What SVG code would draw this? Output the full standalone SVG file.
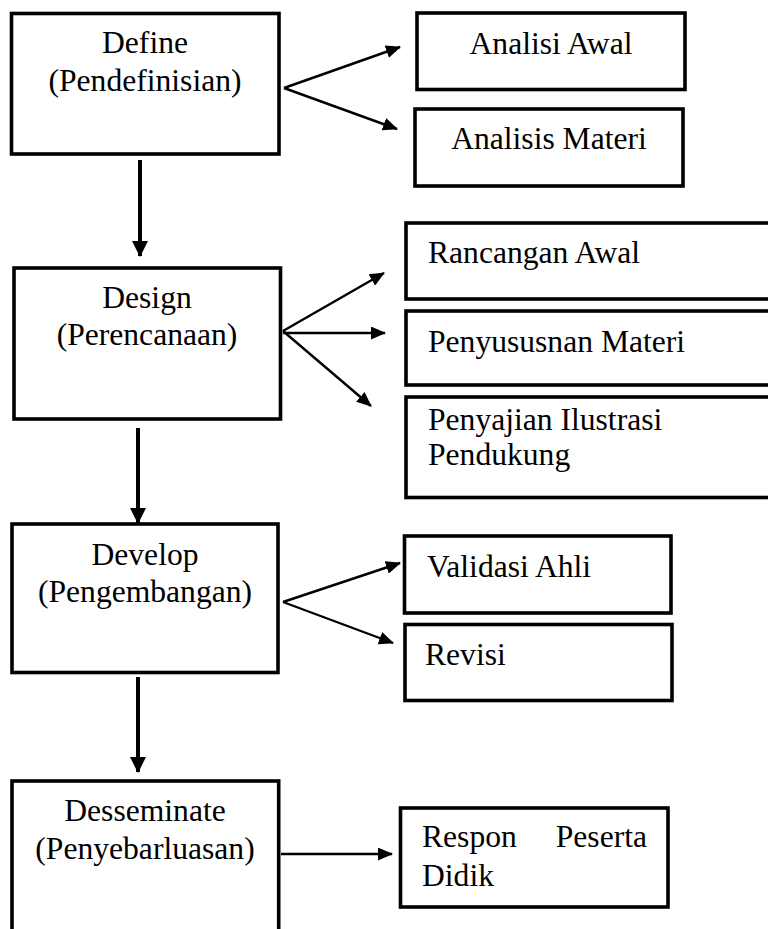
<svg xmlns="http://www.w3.org/2000/svg" width="768" height="929" viewBox="0 0 768 929">
<defs>
<style>
.box{fill:#fff;stroke:#000;stroke-width:3.6}
.t{font-family:'Liberation Serif','DejaVu Serif',serif;font-size:31.6px;fill:#000}
.c{text-anchor:middle}
.e{text-anchor:end}
.thin{stroke:#000;stroke-width:2.4;fill:none}
.thick{stroke:#000;stroke-width:4;fill:none}
</style>
<marker id="ah" markerUnits="userSpaceOnUse" markerWidth="15" markerHeight="13" refX="14" refY="6.5" orient="auto" viewBox="0 0 15 13">
<path d="M0,0 L15,6.5 L0,13 z" fill="#000"/>
</marker>
<marker id="ahb" markerUnits="userSpaceOnUse" markerWidth="16" markerHeight="16" refX="15" refY="8" orient="auto" viewBox="0 0 16 16">
<path d="M0,0 L16,8 L0,16 z" fill="#000"/>
</marker>
</defs>
<rect width="768" height="929" fill="#fff"/>

<g id="define">
<rect class="box" x="11.5" y="13.5" width="267.5" height="140.5"/>
<text class="t c" x="145" y="53">Define</text>
<text class="t c" x="145" y="91">(Pendefinisian)</text>
</g>
<g id="analisi-awal">
<rect class="box" x="417" y="13" width="268" height="76.5"/>
<text class="t c" x="551" y="54">Analisi Awal</text>
</g>
<g id="analisis-materi">
<rect class="box" x="415" y="109" width="268" height="77"/>
<text class="t c" x="549" y="149">Analisis Materi</text>
</g>

<g id="design">
<rect class="box" x="14" y="268" width="266.5" height="151"/>
<text class="t c" x="147" y="308">Design</text>
<text class="t c" x="147" y="345">(Perencanaan)</text>
</g>
<g id="rancangan-awal">
<rect class="box" x="406" y="223" width="400" height="76"/>
<text class="t" x="428" y="263">Rancangan Awal</text>
</g>
<g id="penyusunan-materi">
<rect class="box" x="406" y="311" width="400" height="74"/>
<text class="t" x="428" y="352">Penyususnan Materi</text>
</g>
<g id="penyajian-ilustrasi">
<rect class="box" x="406" y="397" width="400" height="100.5"/>
<text class="t" x="428" y="430">Penyajian Ilustrasi</text>
<text class="t" x="428" y="465">Pendukung</text>
</g>

<g id="develop">
<rect class="box" x="12" y="524" width="266" height="148.5"/>
<text class="t c" x="145" y="565">Develop</text>
<text class="t c" x="145" y="602">(Pengembangan)</text>
</g>
<g id="validasi-ahli">
<rect class="box" x="404.5" y="536" width="266.5" height="77"/>
<text class="t" x="427" y="577">Validasi Ahli</text>
</g>
<g id="revisi">
<rect class="box" x="405" y="624.5" width="267" height="76"/>
<text class="t" x="425" y="665">Revisi</text>
</g>

<g id="desseminate">
<rect class="box" x="12" y="781" width="266.7" height="200"/>
<text class="t c" x="145" y="821">Desseminate</text>
<text class="t c" x="145" y="859">(Penyebarluasan)</text>
</g>
<g id="respon-peserta-didik">
<rect class="box" x="400.5" y="808" width="267.5" height="99"/>
<text class="t" x="422" y="847">Respon</text>
<text class="t e" x="647" y="847">Peserta</text>
<text class="t" x="422" y="886">Didik</text>
</g>

<g id="connectors">
<line class="thin" x1="284" y1="88" x2="400" y2="47" marker-end="url(#ah)"/>
<line class="thin" x1="284" y1="88" x2="397" y2="129" marker-end="url(#ah)"/>
<line class="thick" x1="140" y1="160" x2="140" y2="256" marker-end="url(#ahb)"/>
<line class="thin" x1="283" y1="331" x2="384" y2="273" marker-end="url(#ah)"/>
<line class="thin" x1="283" y1="333" x2="385" y2="333" marker-end="url(#ah)"/>
<line class="thin" x1="283" y1="331" x2="371" y2="406" marker-end="url(#ah)"/>
<line class="thick" x1="138" y1="428" x2="138" y2="523" marker-end="url(#ahb)"/>
<line class="thin" x1="283" y1="602" x2="400" y2="563" marker-end="url(#ah)"/>
<line class="thin" x1="283" y1="602" x2="393" y2="643" marker-end="url(#ah)"/>
<line class="thick" x1="138" y1="677" x2="138" y2="772" marker-end="url(#ahb)"/>
<line class="thin" x1="281" y1="854" x2="392" y2="854" marker-end="url(#ah)"/>
</g>
</svg>
